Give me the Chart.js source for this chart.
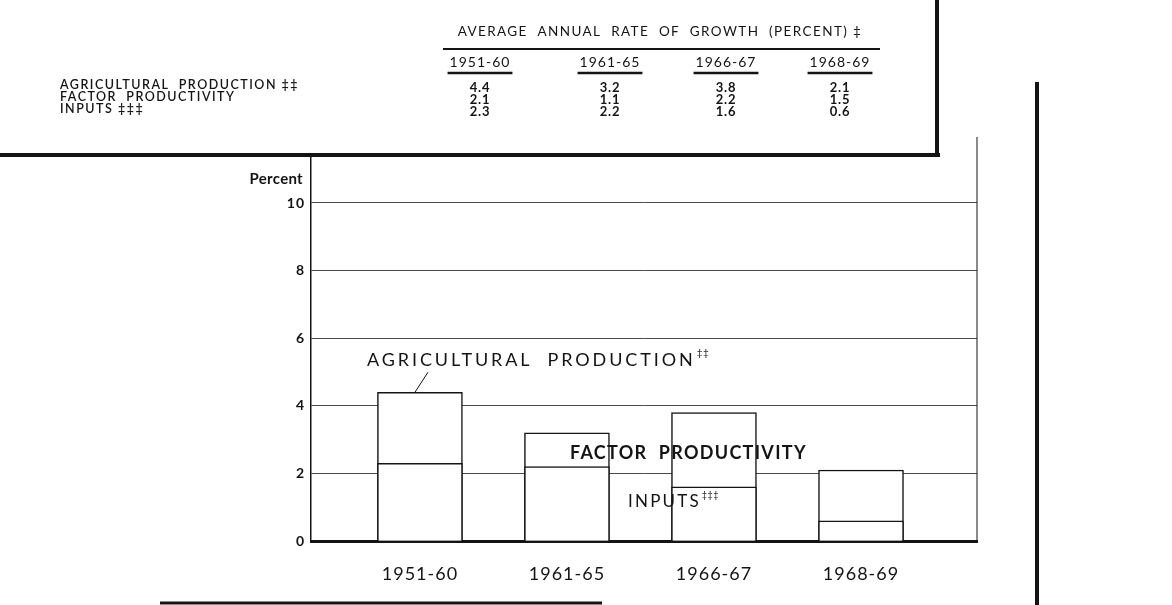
<!DOCTYPE html>
<html>
<head>
<meta charset="utf-8">
<script src="https://cdn.jsdelivr.net/npm/chart.js@4/dist/chart.umd.min.js"></script>
<style>
  html, body { margin: 0; padding: 0; background: #fff; }
  #wrap { width: 1172px; height: 605px; position: relative; }
</style>
</head>
<body>
<div id="wrap"><canvas id="grafico" width="1172" height="605"></canvas></div>
<script>
const periodos = ['1951-60', '1961-65', '1966-67', '1968-69'];
const producaoAgricola = [4.4, 3.2, 3.8, 2.1];
const produtividadeFatores = [2.1, 1.1, 2.2, 1.5];
const insumos = [2.3, 2.2, 1.6, 0.6];
const ticksY = [0, 2, 4, 6, 8, 10];

const tituloTabela = 'AVERAGE  ANNUAL  RATE  OF  GROWTH  (PERCENT) \u2021';
const linhasTabela = ['AGRICULTURAL  PRODUCTION \u2021\u2021', 'FACTOR  PRODUCTIVITY', 'INPUTS \u2021\u2021\u2021'];
const valoresTabela = [producaoAgricola, produtividadeFatores, insumos];

const COR = '#141414';
const FONTE = 'Lato, "DejaVu Sans", sans-serif';

function texto(ctx, t, x, y, font, align, espaco) {
  ctx.save();
  ctx.font = font;
  ctx.fillStyle = COR;
  ctx.textAlign = align || 'left';
  ctx.textBaseline = 'middle';
  ctx.letterSpacing = (espaco || 0) + 'px';
  ctx.fillText(t, x, y);
  const w = ctx.measureText(t).width;
  ctx.restore();
  return w;
}

function linha(ctx, x1, y1, x2, y2, largura) {
  ctx.save();
  ctx.strokeStyle = COR;
  ctx.lineWidth = largura;
  ctx.beginPath();
  ctx.moveTo(x1, y1);
  ctx.lineTo(x2, y2);
  ctx.stroke();
  ctx.restore();
}

const espacamento = {
  id: 'espacamento',
  beforeDraw(chart) {
    chart.ctx.letterSpacing = '1px';
  }
};

const extras = {
  id: 'extras',
  afterDraw(chart) {
    const ctx = chart.ctx;
    const area = chart.chartArea;
    const xs = chart.scales.x;
    const ys = chart.scales.y;

    // moldura do gráfico
    linha(ctx, area.right, 137, area.right, area.bottom, 1);

    // caixa da tabela
    linha(ctx, 0, 155, 940, 155, 4);
    linha(ctx, 937, 0, 937, 157, 4);
    // linhas soltas da página
    linha(ctx, 1037, 82, 1037, 605, 4);
    linha(ctx, 160, 603, 602, 603, 3);

    // tabela
    texto(ctx, tituloTabela, 660, 32, '13.5px ' + FONTE, 'center', 1.4);
    linha(ctx, 443, 49, 880, 49, 2);
    const colunas = [480, 610, 726, 840];
    periodos.forEach((p, i) => {
      const w = texto(ctx, p, colunas[i], 62, '14px ' + FONTE, 'center', 1);
      linha(ctx, colunas[i] - w / 2 - 2, 73, colunas[i] + w / 2 + 2, 73, 2.5);
    });
    linhasTabela.forEach((l, r) => {
      texto(ctx, l, 60, 85 + r * 12, '600 12.5px ' + FONTE, 'left', 1.5);
      valoresTabela[r].forEach((v, i) => {
        texto(ctx, v.toFixed(1), colunas[i], 88 + r * 12, 'bold 13px ' + FONTE, 'center', 0.8);
      });
    });

    // título do eixo y
    texto(ctx, 'Percent', 303, 179, 'bold 15px ' + FONTE, 'right', 0.3);

    // rótulos dentro do gráfico
    const w1 = texto(ctx, 'AGRICULTURAL  PRODUCTION', 367, 360, '18px ' + FONTE, 'left', 2.9);
    texto(ctx, '\u2021\u2021', 367 + w1 + 1, 353, '10px ' + FONTE, 'left', 0.5);
    const bx = xs.getPixelForValue(0) - 5;
    const by = ys.getPixelForValue(producaoAgricola[0]);
    linha(ctx, bx, by, bx + 13, by - 20, 1);

    texto(ctx, 'FACTOR  PRODUCTIVITY', 570, 453, 'bold 18px ' + FONTE, 'left', 1.3);
    const w2 = texto(ctx, 'INPUTS', 628, 502, '17px ' + FONTE, 'left', 2.2);
    texto(ctx, '\u2021\u2021\u2021', 628 + w2 + 1, 495, '9px ' + FONTE, 'left', 0.5);
  }
};

new Chart(document.getElementById('grafico'), {
  type: 'bar',
  data: {
    datasets: [
      {
        label: 'Inputs',
        data: periodos.map((p, i) => ({ x: i, y: insumos[i] })),
        backgroundColor: '#ffffff',
        borderColor: COR,
        borderWidth: 1.5,
        barThickness: 85
      },
      {
        label: 'Agricultural production',
        data: periodos.map((p, i) => ({ x: i, y: producaoAgricola[i] })),
        backgroundColor: '#ffffff',
        borderColor: COR,
        borderWidth: 1.5,
        barThickness: 85
      }
    ]
  },
  options: {
    responsive: false,
    animation: false,
    devicePixelRatio: 1,
    layout: { padding: { left: 0, right: 195, top: 155, bottom: 0 } },
    plugins: {
      legend: { display: false },
      tooltip: { enabled: false }
    },
    scales: {
      x: {
        type: 'linear',
        stacked: true,
        offset: false,
        min: -0.741,
        max: 3.789,
        grid: { display: false },
        border: { color: COR, width: 3 },
        afterFit: s => { s.height = 64; },
        ticks: {
          stepSize: 1,
          includeBounds: false,
          autoSkip: false,
          maxRotation: 0,
          padding: 14,
          color: COR,
          font: { family: FONTE, size: 18 },
          callback: v => (Number.isInteger(v) && periodos[v]) ? periodos[v] : ''
        }
      },
      y: {
        stacked: false,
        min: 0,
        max: 11.42,
        afterFit: s => { s.width = 311; },
        grid: {
          drawTicks: false,
          color: c => c.tick.value === 0 ? 'rgba(0,0,0,0)' : '#4a4a4a',
          lineWidth: 1
        },
        border: { color: COR, width: 1.5 },
        ticks: {
          stepSize: 2,
          includeBounds: false,
          padding: 6,
          color: COR,
          font: { family: FONTE, size: 14, weight: 'bold' },
          callback: v => ticksY.includes(v) ? v : ''
        }
      }
    }
  },
  plugins: [espacamento, extras]
});
</script>
</body>
</html>
